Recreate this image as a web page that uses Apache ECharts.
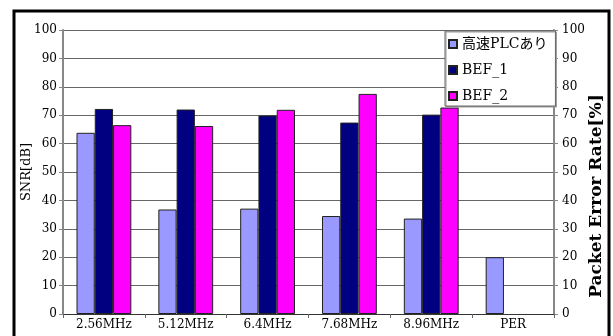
<!DOCTYPE html>
<html>
<head>
<meta charset="utf-8">
<script src="https://cdn.jsdelivr.net/npm/echarts@6/dist/echarts.min.js"></script>
<style>
  html, body { margin: 0; padding: 0; background: #fff; }
  #chart { width: 613px; height: 336px; }
</style>
</head>
<body>
<div id="chart"></div>
<script>
// Frequency bands plus the packet error rate column
const categories = ['2.56MHz', '5.12MHz', '6.4MHz', '7.68MHz', '8.96MHz', 'PER'];
const seriesNames = ['高速PLCあり', 'BEF_1', 'BEF_2'];
const highSpeedPlc = [63.8, 36.8, 37.1, 34.5, 33.6, 20];
const bef1 = [72.2, 72.0, 69.9, 67.4, 70.2, null];
const bef2 = [66.5, 66.2, 71.9, 77.5, 72.7, null];
const axisTicks = { min: 0, max: 100, interval: 10 };

const serif = '"DejaVu Serif", "Noto Sans CJK JP", serif';
const colors = ['#9999FF', '#000080', '#FF00FF'];

const chart = echarts.init(document.getElementById('chart'), null, { renderer: 'canvas' });

function barSeries(name, data, color) {
  return {
    name: name,
    type: 'bar',
    data: data,
    barGap: '0%',
    barCategoryGap: '33%',
    itemStyle: { color: color, borderColor: '#222', borderWidth: 1 },
    emphasis: { disabled: true }
  };
}

function valueAxis(position, name, gap, nameStyle) {
  return {
    type: 'value',
    position: position,
    min: axisTicks.min,
    max: axisTicks.max,
    interval: axisTicks.interval,
    name: name,
    nameLocation: 'middle',
    nameRotate: 90,
    nameGap: gap,
    nameMoveOverlap: false,
    nameTextStyle: nameStyle,
    axisLine: { show: true, lineStyle: { color: '#888', width: 2 } },
    axisTick: { show: true, inside: false, length: 4, lineStyle: { color: '#888' } },
    axisLabel: { fontFamily: serif, fontSize: 12, color: '#000', margin: position === 'left' ? 6 : 8 },
    splitLine: { show: position === 'left', lineStyle: { color: '#666', width: 1 } }
  };
}

chart.setOption({
  animation: false,
  backgroundColor: '#fff',
  grid: { left: 63, right: 56, top: 30, bottom: 22, containLabel: false },
  graphic: [{
    type: 'rect',
    shape: { x: 14, y: 11, width: 595, height: 340 },
    style: { fill: null, stroke: '#000', lineWidth: 3 },
    silent: true
  }],
  legend: {
    orient: 'vertical',
    left: 445,
    top: 31,
    data: seriesNames,
    icon: 'rect',
    itemWidth: 8,
    itemHeight: 8,
    itemGap: 12,
    padding: [6, 8, 3, 3],
    backgroundColor: '#fff',
    borderColor: '#666',
    borderWidth: 1,
    shadowColor: '#999',
    shadowOffsetX: 1,
    shadowOffsetY: 1,
    textStyle: { fontFamily: serif, fontSize: 14, color: '#000', lineHeight: 14 }
  },
  xAxis: {
    type: 'category',
    data: categories,
    axisLine: { show: true, lineStyle: { color: '#333', width: 1 } },
    axisTick: { show: true, alignWithLabel: false, length: 4, lineStyle: { color: '#666' } },
    axisLabel: { fontFamily: serif, fontSize: 12, color: '#000', margin: 5 },
    splitLine: { show: false }
  },
  yAxis: [
    valueAxis('left', 'SNR[dB]', 30,
      { fontFamily: serif, fontSize: 13, color: '#000' }),
    valueAxis('right', 'Packet Error Rate[%]', 34,
      { fontFamily: serif, fontSize: 17, fontWeight: 'bold', color: '#000', padding: [0, 48, 0, 0] })
  ],
  series: [
    barSeries(seriesNames[0], highSpeedPlc, colors[0]),
    barSeries(seriesNames[1], bef1, colors[1]),
    barSeries(seriesNames[2], bef2, colors[2])
  ]
});
</script>
</body>
</html>
